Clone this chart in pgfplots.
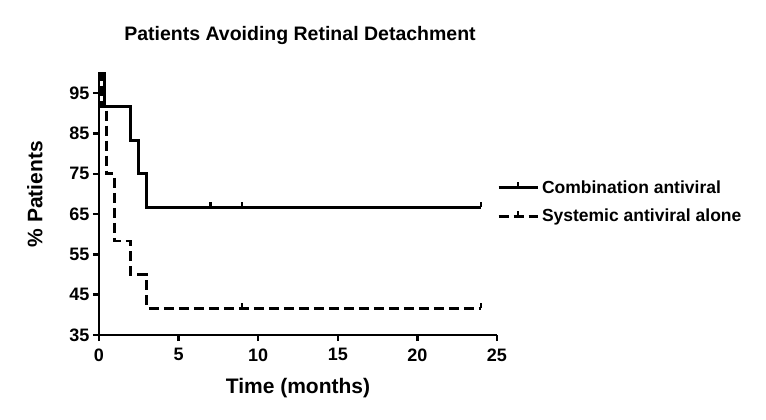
\documentclass[border=0pt]{standalone}
\usepackage{fontspec}
\setmainfont{Liberation Sans}
\usepackage{pgfplots}
\pgfplotsset{compat=1.18}
\pgfdeclareplotmark{cens}{%
  \pgfpathmoveto{\pgfpoint{0pt}{0pt}}%
  \pgfpathlineto{\pgfpoint{0pt}{5.5bp}}%
  \pgfusepathqstroke}
\tikzset{
  kmline/.style={line width=2.8bp,line cap=butt,line join=miter},
  kmdash/.style={kmline,dash pattern=on 10bp off 5bp},
}
\pgfplotsset{
  kmlegend/.style={legend image code/.code={
    \pgfsetlinewidth{3bp}
    \draw[##1,line width=3bp] (0bp,0bp) -- (39bp,0bp);
    \draw[line width=2.2bp,solid] (19.5bp,0bp) -- (19.5bp,5.5bp);}},
}
\begin{document}
\begin{tikzpicture}
  \useasboundingbox (-99bp,-85bp) rectangle (667bp,335bp);
  \begin{axis}[
    scale only axis,width=398bp,height=263.3bp,
    xmin=0,xmax=25,ymin=35,ymax=100.3,
    axis lines*=left,
    axis line style={line width=2.8bp},
    every tick/.style={line width=2.4bp,black},
    major tick length=6bp,
    tick align=outside,
    xtick={0,5,...,25},ytick={35,45,...,95},
    /pgf/number format/assume math mode=true,
    ticklabel style={font=\fontsize{18bp}{21bp}\selectfont\bfseries},
    xticklabel style={yshift=-4bp},
    title={Patients Avoiding Retinal Detachment},
    title style={font=\fontsize{19.5bp}{23bp}\selectfont\bfseries,
      at={(axis description cs:0.505,1.114)},anchor=center,yshift=0pt},
    xlabel={Time (months)},
    ylabel={\% Patients},
    label style={font=\fontsize{21bp}{25bp}\selectfont\bfseries},
    xlabel style={at={(axis description cs:0.5,-0.201)},anchor=center},
    ylabel style={at={(axis description cs:-0.161,0.535)},anchor=center},
    clip=false,
    legend style={draw=none,fill=none,at={(1,0.505)},anchor=west,
      font=\fontsize{17.5bp}{21bp}\selectfont\bfseries,row sep=8bp,
      inner sep=0pt,outer sep=0pt,
      nodes={inner sep=3bp}},
    legend cell align=left,
  ]
    \addplot[kmline,kmlegend] coordinates {
      (0,100) (0.35,100) (0.35,91.67) (2,91.67) (2,83.33) (2.5,83.33)
      (2.5,75) (3,75) (3,66.67) (24,66.67)};
    \addlegendentry{Combination antiviral}
    \addplot[kmdash,kmlegend] coordinates {
      (0,100) (0.15,100) (0.15,91.67) (0.45,91.67) (0.45,75) (0.95,75)
      (0.95,58.33) (2,58.33) (2,50) (3,50) (3,41.67) (24,41.67)};
    \addlegendentry{Systemic antiviral alone}
    \addplot[only marks,mark=cens,line width=2.2bp,forget plot] coordinates {
      (7,66.67) (9,66.67) (24,66.67) (9,41.67) (24,41.67)};
  \end{axis}
\end{tikzpicture}
\end{document}
